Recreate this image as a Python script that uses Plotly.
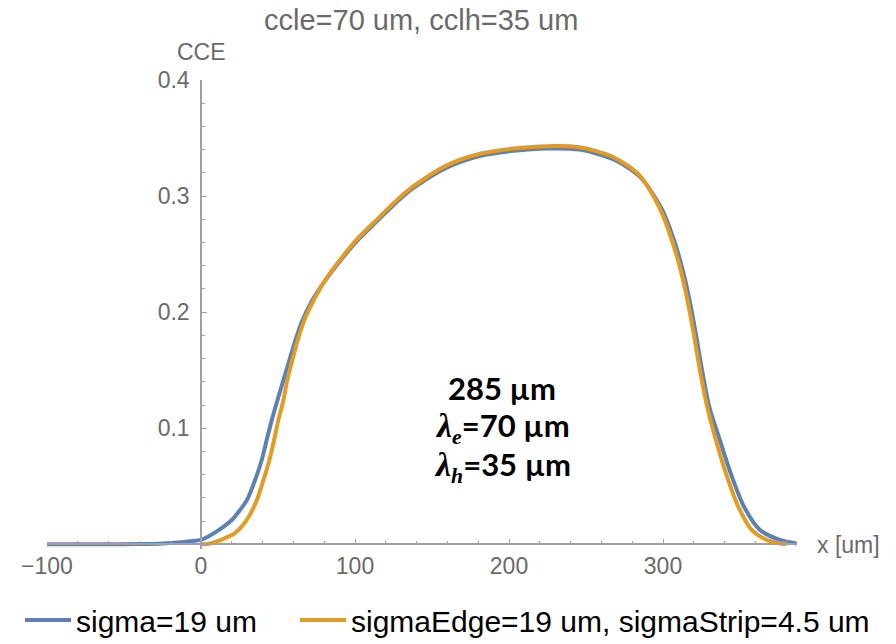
import plotly.graph_objects as go

# ---------------- data ----------------
x_sigma = [-100, -60, -40, -25, -15, -8, 0, 5, 10, 15, 20, 25, 30, 35, 39.4, 42.6, 45.9,
           49.6, 53.5, 57.4, 61, 65.4, 71.9, 80.5, 90.3, 101, 114, 128, 138, 159.5, 181,
           203, 224.5, 246, 268, 285, 299.2, 307.4, 313.5, 318.2, 322.1, 325.8, 330.1,
           337, 344, 352.6, 363, 376, 387]
y_sigma = [0.0, 0.0001, 0.0003, 0.0008, 0.0016, 0.0026, 0.0038, 0.007, 0.011, 0.0155, 0.021,
           0.029, 0.0385, 0.055, 0.0725, 0.0896, 0.1068, 0.124, 0.1415, 0.1587, 0.1745,
           0.1915, 0.2095, 0.227, 0.244, 0.261, 0.278, 0.296, 0.307, 0.3245, 0.3345, 0.339,
           0.341, 0.340, 0.3315, 0.3165, 0.289, 0.261, 0.2326, 0.204, 0.1754, 0.1468, 0.1182,
           0.0896, 0.061, 0.0324, 0.0124, 0.0039, 0.0008]

x_edge = [0, 5, 9, 15, 22, 29.7, 36.2, 40.5, 44.4, 47.4, 50.2, 53.5, 56, 59.3, 62.8, 66.9,
          72.9, 81, 90.5, 101, 114, 128, 138, 159.5, 181, 203, 224.5, 246, 268, 285, 297.8,
          306, 312.1, 316.8, 320.7, 324.4, 328.7, 334.4, 340.9, 348.9, 357.6, 367.3, 376, 380]
y_edge = [0.0, 0.0005, 0.002, 0.005, 0.0096, 0.021, 0.038, 0.0553, 0.0725, 0.0896, 0.1068,
          0.124, 0.1415, 0.1587, 0.1758, 0.1925, 0.2095, 0.2285, 0.2455, 0.2625, 0.2795,
          0.2975, 0.3085, 0.3265, 0.3365, 0.341, 0.343, 0.342, 0.3335, 0.3175, 0.2897,
          0.2611, 0.2326, 0.204, 0.1754, 0.1468, 0.1182, 0.0896, 0.061, 0.0324, 0.0124,
          0.0039, 0.0008, 0.0002]

series_names = ["sigma=19 um", "sigmaEdge=19 um, sigmaStrip=4.5 um"]
series_colors = ["#5E81B5", "#E19C24"]

x_ticks = [-100, 0, 100, 200, 300]
y_ticks = [0.1, 0.2, 0.3, 0.4]

title_text = "ccle=70 um, cclh=35 um"
y_label = "CCE"
x_label = "x [um]"

# ---------------- layout geometry ----------------
W, H = 896, 644
L, R, T, B = 47, 99, 80, 95
XR = [-100, 387]
YR = [-0.004, 0.4]
pw, ph = W - L - R, H - T - B


def px(xp):
    return (xp - L) / pw


def py(yp):
    return (H - B - yp) / ph


xaxis_pos = (0 - YR[0]) / (YR[1] - YR[0])
yaxis_pos = (0 - XR[0]) / (XR[1] - XR[0])

axis_col = "#a0a0a0"
text_col = "#6a6a6a"
base_font = "Liberation Sans, Arial, sans-serif"

fig = go.Figure()
fig.add_trace(go.Scatter(x=x_sigma, y=y_sigma, mode="lines", name=series_names[0],
                         legend="legend",
                         line=dict(color=series_colors[0], width=4, shape="spline", smoothing=0.8)))
fig.add_trace(go.Scatter(x=x_edge, y=y_edge, mode="lines", name=series_names[1],
                         legend="legend2",
                         line=dict(color=series_colors[1], width=4, shape="spline", smoothing=0.8)))

leg_common = dict(orientation="h", xanchor="left", y=py(620), yanchor="middle",
                  font=dict(size=30, color="black", family=base_font),
                  itemwidth=46, bgcolor="rgba(0,0,0,0)")

fig.update_layout(
    width=W, height=H,
    margin=dict(l=L, r=R, t=T, b=B, autoexpand=False),
    paper_bgcolor="white", plot_bgcolor="white",
    font=dict(family=base_font, color=text_col, size=23),
    xaxis=dict(range=XR, anchor="free", position=xaxis_pos, showgrid=False, zeroline=False,
               showline=True, linecolor=axis_col, linewidth=1.5,
               tickmode="array", tickvals=x_ticks, ticks="inside", ticklen=5,
               tickcolor=axis_col, tickwidth=1.2, ticklabelstandoff=1,
               tickfont=dict(size=23, color=text_col),
               minor=dict(tickmode="linear", tick0=0, dtick=20, ticks="inside", ticklen=3,
                          tickcolor=axis_col, tickwidth=1)),
    yaxis=dict(range=YR, anchor="free", position=yaxis_pos, showgrid=False, zeroline=False,
               showline=True, linecolor=axis_col, linewidth=1.5,
               tickmode="array", tickvals=y_ticks, ticks="inside", ticklen=5,
               tickcolor=axis_col, tickwidth=1.2, ticklabelstandoff=6,
               tickfont=dict(size=23, color=text_col),
               minor=dict(tickmode="linear", tick0=0, dtick=0.02, ticks="inside", ticklen=3,
                          tickcolor=axis_col, tickwidth=1)),
    showlegend=True,
    legend=dict(x=px(20), **leg_common),
    legend2=dict(x=px(295), **leg_common),
)

ann = []
ann.append(dict(text=title_text, x=px(421), y=py(20), xref="paper", yref="paper",
                showarrow=False, font=dict(size=29, color=text_col), xanchor="center", yanchor="middle"))
ann.append(dict(text=y_label, x=yaxis_pos, y=py(52), xref="paper", yref="paper",
                showarrow=False, font=dict(size=23, color=text_col), xanchor="center", yanchor="middle"))
ann.append(dict(text=x_label, x=px(815), y=py(545), xref="paper", yref="paper",
                showarrow=False, font=dict(size=23, color=text_col), xanchor="left", yanchor="middle"))

lam = "<span style='font-family:Liberation Serif;font-size:34px'><i>λ</i></span>"
sub_e = "<sub><span style='font-family:Liberation Serif'><i>e</i></span></sub>"
sub_h = "<sub><span style='font-family:Liberation Serif'><i>h</i></span></sub>"
lines = ["<b>285 µm</b>",
         "<b>" + lam + sub_e + "=70 µm</b>",
         "<b>" + lam + sub_h + "=35 µm</b>"]
for txt, yy in zip(lines, [388, 427, 466]):
    ann.append(dict(text=txt, x=px(502), y=py(yy), xref="paper", yref="paper", showarrow=False,
                    font=dict(size=31, color="black", family="Lato, Carlito, sans-serif"),
                    xanchor="center", yanchor="middle"))
fig.update_layout(annotations=ann)

fig.write_html("out.html")
